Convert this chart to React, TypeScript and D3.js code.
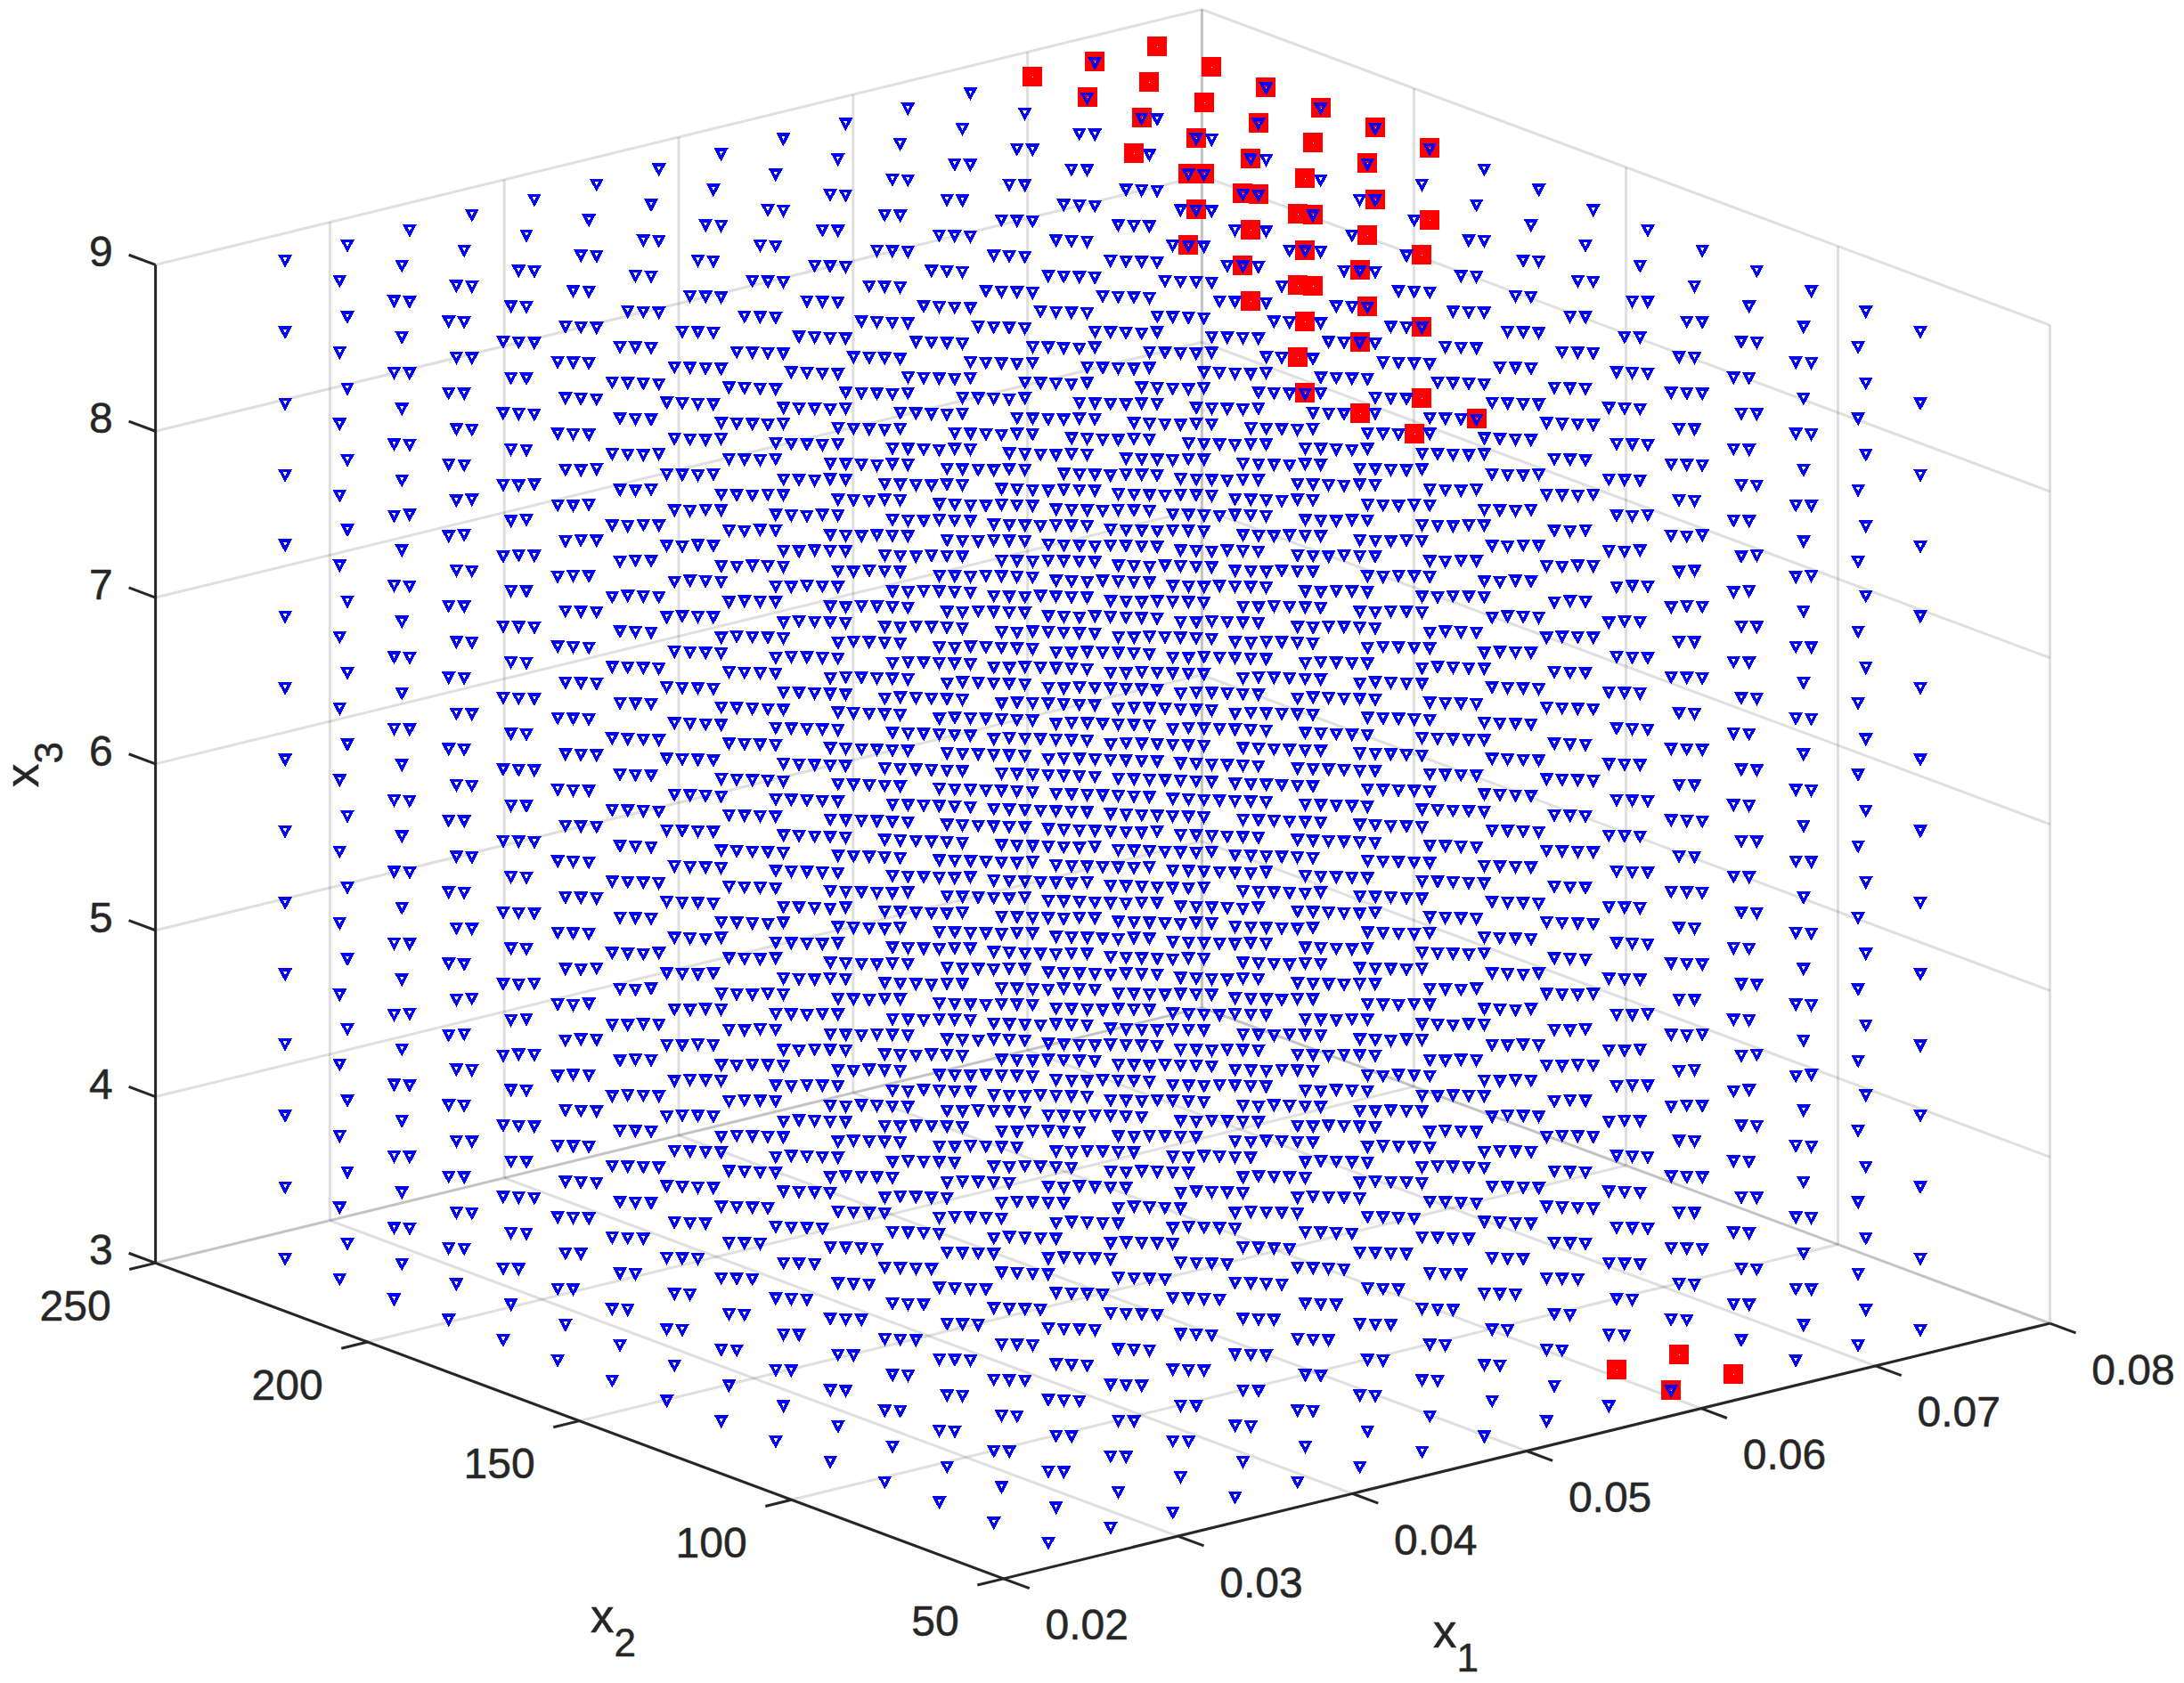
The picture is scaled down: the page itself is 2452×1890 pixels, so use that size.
import * as d3 from 'd3';
import { useEffect, useRef } from 'react';

const WIDTH = 2452;
const HEIGHT = 1890;

// Sampled levels of the three variables
const x1Levels = [0.025, 0.02857, 0.03214, 0.03571, 0.03929, 0.04286, 0.04643, 0.05, 0.05357, 0.05714, 0.06071, 0.06429, 0.06786, 0.07143, 0.075];
const x2Levels = [60, 72.86, 85.71, 98.57, 111.43, 124.29, 137.14, 150, 162.86, 175.71, 188.57, 201.43, 214.29, 227.14, 240];
const x3Levels = [3, 3.43, 3.86, 4.29, 4.71, 5.14, 5.57, 6, 6.43, 6.86, 7.29, 7.71, 8.14, 8.57, 9];

// Red points, as level numbers
const redX1 = [12, 13, 14, 12, 13, 14, 12, 13, 14, 11, 12, 13, 14, 11, 12, 13, 14, 13, 11, 13, 12, 13, 14, 12, 11, 13, 14, 14, 12, 13, 11, 12, 13, 11, 12, 11, 13, 12, 13, 12, 13, 12, 11, 12, 13, 12, 13, 12, 10, 11, 11, 10];
const redX2 = [14, 14, 14, 13, 13, 13, 12, 12, 12, 11, 11, 11, 11, 10, 10, 10, 10, 12, 9, 11, 9, 9, 9, 11, 8, 10, 10, 9, 10, 9, 10, 9, 8, 9, 8, 8, 10, 10, 9, 9, 8, 8, 8, 9, 8, 8, 7, 7, 1, 1, 0, 0];
const redX3 = [14, 14, 14, 14, 14, 14, 14, 14, 14, 14, 14, 14, 14, 14, 14, 14, 14, 13, 14, 13, 14, 14, 14, 13, 14, 13, 13, 13, 13, 13, 13, 13, 13, 13, 13, 13, 12, 12, 12, 12, 12, 12, 12, 11, 11, 11, 11, 11, 0, 0, 0, 0];
// 1 where a blue point sits on the red one as well
const redAlsoBlue = [0, 1, 0, 1, 0, 0, 1, 0, 1, 0, 1, 1, 1, 1, 1, 0, 1, 1, 1, 1, 0, 1, 1, 1, 0, 1, 1, 0, 0, 0, 1, 1, 0, 1, 1, 0, 0, 0, 1, 0, 1, 1, 0, 1, 0, 0, 1, 0, 0, 0, 0, 1];

const x1Ticks = [0.02, 0.03, 0.04, 0.05, 0.06, 0.07, 0.08];
const x2Ticks = [50, 100, 150, 200, 250];
const x3Ticks = [3, 4, 5, 6, 7, 8, 9];

// Linear projection of the box, measured from the corner x1=0.02, x2=50, x3=3
const originX = 1126.7;
const originY = 1772.9;
const x1ToX = d3.scaleLinear().domain([0.02, 0.08]).range([0, 1174.8]);
const x1ToY = d3.scaleLinear().domain([0.02, 0.08]).range([0, -286.8]);
const x2ToX = d3.scaleLinear().domain([50, 250]).range([0, -952.1]);
const x2ToY = d3.scaleLinear().domain([50, 250]).range([0, -354.5]);
const x3ToY = d3.scaleLinear().domain([3, 9]).range([0, -1121]);

const project = (x1: number, x2: number, x3: number): [number, number] => [
  originX + x1ToX(x1) + x2ToX(x2),
  originY + x1ToY(x1) + x2ToY(x2) + x3ToY(x3),
];

const line3d = (a: number[], b: number[]) => {
  const [x1, y1] = project(a[0], a[1], a[2]);
  const [x2, y2] = project(b[0], b[1], b[2]);
  return `M${x1},${y1}L${x2},${y2}`;
};

const INK = '#262626';
const FONT = '"Liberation Sans", Arial, sans-serif';

export default function App() {
  const svgRef = useRef<SVGSVGElement>(null);

  useEffect(() => {
    if (!svgRef.current) return;
    const svg = d3.select(svgRef.current);
    svg.selectAll('*').remove();

    // Grid on the floor and the two back walls
    const gridPaths: string[] = [];
    x1Ticks.forEach((t) => {
      gridPaths.push(line3d([t, 50, 3], [t, 250, 3]));
      gridPaths.push(line3d([t, 250, 3], [t, 250, 9]));
    });
    x2Ticks.forEach((t) => {
      gridPaths.push(line3d([0.02, t, 3], [0.08, t, 3]));
      gridPaths.push(line3d([0.08, t, 3], [0.08, t, 9]));
    });
    x3Ticks.forEach((t) => {
      gridPaths.push(line3d([0.02, 250, t], [0.08, 250, t]));
      gridPaths.push(line3d([0.08, 250, t], [0.08, 50, t]));
    });
    svg
      .append('g')
      .selectAll('path')
      .data(gridPaths)
      .join('path')
      .attr('d', (d) => d)
      .attr('fill', 'none')
      .attr('stroke', INK)
      .attr('stroke-opacity', 0.15)
      .attr('stroke-width', 3);

    // Axis lines and ticks
    const axisPaths = [
      line3d([0.02, 250, 3], [0.02, 250, 9]),
      line3d([0.02, 250, 3], [0.02, 50, 3]),
      line3d([0.02, 50, 3], [0.08, 50, 3]),
      ...x1Ticks.map((t) => line3d([t, 50, 3], [t, 43.9, 3])),
      ...x2Ticks.map((t) => line3d([0.02, t, 3], [0.0185, t, 3])),
      ...x3Ticks.map((t) => line3d([0.02, 250, t], [0.02, 256.3, t])),
    ];
    svg
      .append('g')
      .selectAll('path')
      .data(axisPaths)
      .join('path')
      .attr('d', (d) => d)
      .attr('fill', 'none')
      .attr('stroke', INK)
      .attr('stroke-width', 3);

    // Tick labels
    const tickLabels = svg
      .append('g')
      .attr('font-family', FONT)
      .attr('font-size', 48)
      .attr('fill', INK)
      .attr('stroke', INK)
      .attr('stroke-width', 0.5);
    x3Ticks.forEach((t) => {
      const [x, y] = project(0.02, 250, t);
      tickLabels
        .append('text')
        .attr('x', x - 48)
        .attr('y', y + 2)
        .attr('text-anchor', 'end')
        .text(d3.format('d')(t));
    });
    x2Ticks.forEach((t) => {
      const [x, y] = project(0.02, t, 3);
      tickLabels
        .append('text')
        .attr('x', x - 50)
        .attr('y', y + 64.5)
        .attr('text-anchor', 'end')
        .text(d3.format('d')(t));
    });
    x1Ticks.forEach((t) => {
      const [x, y] = project(t, 50, 3);
      tickLabels
        .append('text')
        .attr('x', x + 93.5)
        .attr('y', y + 68.4)
        .attr('text-anchor', 'middle')
        .text(d3.format('.2f')(t));
    });

    // Axis labels
    const axisLabel = (sub: string, x: number, y: number, rotate = false) => {
      const label = svg
        .append('text')
        .attr('font-family', FONT)
        .attr('font-size', 52.8)
        .attr('fill', INK)
        .attr('stroke', INK)
        .attr('stroke-width', 0.5)
        .attr('transform', `translate(${x},${y})${rotate ? ' rotate(-90)' : ''}`);
      label.append('tspan').text('x');
      label.append('tspan').attr('font-size', 44).attr('dy', 27).text(sub);
    };
    axisLabel('1', 1609, 1850);
    axisLabel('2', 663, 1833);
    axisLabel('3', 43, 884, true);

    // Red squares go under the blue triangles
    const redPoints = redX1.map((_, n) =>
      project(x1Levels[redX1[n]], x2Levels[redX2[n]], x3Levels[redX3[n]])
    );
    svg
      .append('g')
      .attr('shape-rendering', 'crispEdges')
      .selectAll('rect')
      .data(redPoints)
      .join('rect')
      .attr('x', (d) => d[0] - 11)
      .attr('y', (d) => d[1] - 11)
      .attr('width', 22)
      .attr('height', 22)
      .attr('fill', '#ff0000');
    svg
      .append('g')
      .attr('shape-rendering', 'crispEdges')
      .selectAll('rect')
      .data(redPoints)
      .join('rect')
      .attr('x', (d) => Math.round(d[0]))
      .attr('y', (d) => Math.round(d[1]))
      .attr('width', 1)
      .attr('height', 1)
      .attr('fill', '#ffffff');

    // Blue points: the whole lattice, less the red points that have no blue one
    const noBlue = new Set(
      redX1
        .map((_, n) => (redAlsoBlue[n] ? '' : `${redX1[n]}-${redX2[n]}-${redX3[n]}`))
        .filter(Boolean)
    );
    const bluePoints: [number, number][] = [];
    x1Levels.forEach((x1, i) => {
      x2Levels.forEach((x2, j) => {
        x3Levels.forEach((x3, k) => {
          if (!noBlue.has(`${i}-${j}-${k}`)) bluePoints.push(project(x1, x2, x3));
        });
      });
    });
    svg
      .append('path')
      .attr(
        'd',
        bluePoints
          .map(
            ([x, y]) =>
              `M${x - 5.17},${y - 3.6}L${x + 5.17},${y - 3.6}L${x},${y + 6.09}Z`
          )
          .join('')
      )
      .attr('fill', 'none')
      .attr('stroke', '#0000ff')
      .attr('stroke-width', 3.4)
      .attr('stroke-linejoin', 'miter')
      .attr('shape-rendering', 'crispEdges');
  }, []);

  return (
    <svg
      ref={svgRef}
      width={WIDTH}
      height={HEIGHT}
      viewBox={`0 0 ${WIDTH} ${HEIGHT}`}
      style={{ position: 'absolute', left: 0, top: 0, background: '#fff' }}
    />
  );
}
